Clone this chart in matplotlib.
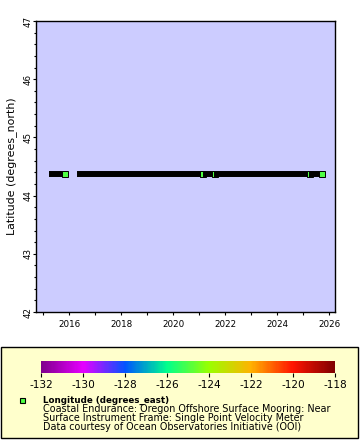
import matplotlib
matplotlib.use("Agg")
import matplotlib.pyplot as plt
import matplotlib.colors as mcolors
from matplotlib.patches import Rectangle
from matplotlib.ticker import MultipleLocator, FormatStrFormatter
import numpy as np

plt.rcParams['font.family'] = ['DejaVu Sans']
plt.rcParams['axes.unicode_minus'] = False

# deployment coverage (decimal years), station position
seg_start = [2015.33, 2016.42, 2021.28, 2021.68, 2025.34]
seg_end = [2015.85, 2021.15, 2021.62, 2025.25, 2025.73]
station_lat = 44.37
station_lon = -124.95

cbar_ticks = [-132, -130, -128, -126, -124, -122, -120, -118]
legend_title = "Longitude (degrees_east)"
legend_lines = ["Coastal Endurance: Oregon Offshore Surface Mooring: Near",
                "Surface Instrument Frame: Single Point Velocity Meter",
                "Data courtesy of Ocean Observatories Initiative (OOI)"]

# rainbow-like palette
cmap = mcolors.LinearSegmentedColormap.from_list("rb2", [
    (0.0, (0.50, 0.0, 0.55)),
    (1/7, (0.90, 0.0, 1.0)),
    (2/7, (0.0, 0.33, 1.0)),
    (3/7, (0.0, 1.0, 0.55)),
    (4/7, (0.60, 1.0, 0.0)),
    (5/7, (1.0, 0.70, 0.0)),
    (6/7, (1.0, 0.08, 0.0)),
    (1.0, (0.50, 0.0, 0.0))])
norm = mcolors.Normalize(vmin=-132, vmax=-118)
fill = cmap(norm(station_lon))

fig = plt.figure(figsize=(3.6, 4.4), dpi=100)
W, H = 360, 440

# legend box (behind everything)
fig.patches.append(Rectangle((1/W, 2/H), 357/W, 91/H, transform=fig.transFigure,
                             facecolor='#ffffcc', edgecolor='black', lw=1, zorder=-5))

ax = fig.add_axes([36/W, 1-312/H, 299/W, 291/H])
ax.set_facecolor('#ccccff')

for i in range(len(seg_start)):
    ax.plot([seg_start[i], seg_end[i]], [station_lat, station_lat], color='black',
            lw=4.3, solid_capstyle='projecting', zorder=3+2*i)
    ax.plot(seg_end[i], station_lat, marker='s', ms=3.7, mfc=fill, mec='black',
            mew=0.7, zorder=4+2*i)

ax.set_xlim(2014.73, 2026.23)
ax.set_ylim(42, 47)
ax.xaxis.set_major_locator(MultipleLocator(2))
ax.xaxis.set_minor_locator(MultipleLocator(1))
ax.xaxis.set_major_formatter(FormatStrFormatter('%d'))
ax.yaxis.set_major_locator(MultipleLocator(1))
ax.yaxis.set_minor_locator(MultipleLocator(0.2))
ax.tick_params(axis='x', which='both', length=2.2, width=0.8, labelsize=6.3, pad=3.5)
ax.tick_params(axis='y', which='major', length=2.2, width=0.8, labelsize=6.3, pad=0)
ax.tick_params(axis='y', which='minor', length=1.6, width=0.8)
for lab in ax.get_yticklabels():
    lab.set_rotation(90)
    lab.set_va('center')
for sp in ax.spines.values():
    sp.set_linewidth(1)
ax.set_ylabel('Latitude (degrees_north)', fontsize=7.9)
ax.yaxis.set_label_coords(-18.5/299, 0.5)

# colorbar
cax = fig.add_axes([41/W, 1-373/H, 294/W, 12/H])
sm = matplotlib.cm.ScalarMappable(norm=norm, cmap=cmap)
cb = fig.colorbar(sm, cax=cax, orientation='horizontal', ticks=cbar_ticks)
cb.outline.set_visible(False)
cb.ax.tick_params(length=3, width=0.8, labelsize=7.6, pad=2)
cb.ax.set_xticklabels([str(t) for t in cbar_ticks])

# legend entry
fig.add_artist(plt.Line2D([22/W], [1-399.5/H], marker='s', ms=3.6, mfc=fill,
                          mec='black', mew=0.8, transform=fig.transFigure))
fig.text(43/W, 1-400/H, legend_title, fontsize=6.3, fontweight='bold', va='center')
for j, line in enumerate(legend_lines):
    fig.text(43/W, 1-(409+9*j)/H, line, fontsize=6.9, va='center')

fig.savefig('out.png', dpi=100)
